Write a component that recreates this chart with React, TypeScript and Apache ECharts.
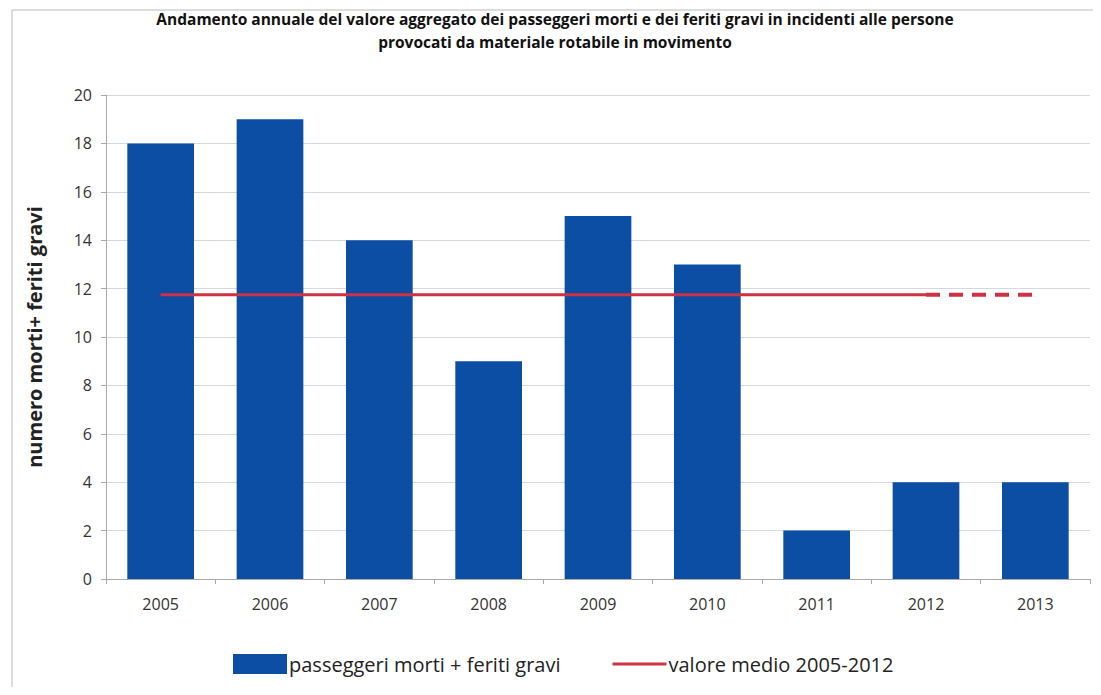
import React, { useEffect, useRef } from "react";
import * as echarts from "echarts";

const years = ["2005", "2006", "2007", "2008", "2009", "2010", "2011", "2012", "2013"];
const values = [18, 19, 14, 9, 15, 13, 2, 4, 4];
const meanSolid = [11.75, 11.75, 11.75, 11.75, 11.75, 11.75, 11.75, 11.75, "-"];
const meanDashed = ["-", "-", "-", "-", "-", "-", "-", 11.75, 11.75];

const FONT = "'Open Sans', sans-serif";

export default function App() {
  const ref = useRef<HTMLDivElement>(null);
  useEffect(() => {
    const chart = echarts.init(ref.current!, null, { renderer: "svg" });
    chart.setOption({
      animation: false,
      backgroundColor: "#fff",
      title: {
        text: "Andamento annuale del valore aggregato dei passeggeri morti e dei feriti gravi in incidenti alle persone\nprovocati da materiale rotabile in movimento",
        left: 550,
        textAlign: "center",
        top: 2,
        textStyle: { fontFamily: FONT, fontSize: 15.5, fontWeight: "bold", color: "#111", lineHeight: 23 },
      },
      legend: {
        top: 649,
        left: 228,
        itemGap: 52,
        itemWidth: 54,
        itemHeight: 20,
        textStyle: { fontFamily: FONT, fontSize: 20, color: "#222", padding: [0, 0, 0, -3] },
        data: [
          { name: "passeggeri morti + feriti gravi", icon: "rect" },
          { name: "valore medio 2005-2012", icon: "path://M0,9 L54,9 L54,12 L0,12 Z" },
        ],
      },
      grid: { left: 106, right: 11, top: 95, bottom: 116 },
      xAxis: {
        type: "category",
        data: years,
        axisLine: { lineStyle: { color: "#aaa" } },
        axisTick: { show: true, lineStyle: { color: "#aaa" } },
        axisLabel: { fontFamily: FONT, fontSize: 16, color: "#333", margin: 17 },
      },
      yAxis: {
        type: "value",
        min: 0,
        max: 20,
        interval: 2,
        name: "numero morti+ feriti gravi",
        nameLocation: "middle",
        nameGap: 62,
        nameTextStyle: { fontFamily: FONT, fontSize: 20, fontWeight: "bold", color: "#222" },
        axisLine: { show: true, lineStyle: { color: "#aaa" } },
        axisTick: { show: true, lineStyle: { color: "#aaa" } },
        axisLabel: { fontFamily: FONT, fontSize: 16, color: "#333", margin: 14 },
        splitLine: { lineStyle: { color: "#d4d8e0" } },
      },
      series: [
        {
          name: "passeggeri morti + feriti gravi",
          type: "bar",
          data: values,
          barWidth: "61%",
          itemStyle: { color: "#0c4ea3" },
        },
        {
          name: "valore medio 2005-2012",
          type: "line",
          data: meanSolid,
          symbol: "none",
          lineStyle: { color: "#cc3344", width: 3 },
          itemStyle: { color: "#cc3344" },
          z: 5,
        },
        {
          name: "valore medio dashed",
          type: "line",
          data: meanDashed,
          symbol: "none",
          lineStyle: { color: "#cc3344", width: 4, type: [14, 9] },
          z: 5,
        },
      ],
      graphic: [
        {
          type: "rect",
          shape: { x: 12, y: 10, width: 1082, height: 690 },
          style: { fill: "none", stroke: "#bbb", lineWidth: 1 },
          silent: true,
        },
      ],
    });
    return () => chart.dispose();
  }, []);
  return <div ref={ref} style={{ width: 1101, height: 695, margin: -8 }} />;
}
